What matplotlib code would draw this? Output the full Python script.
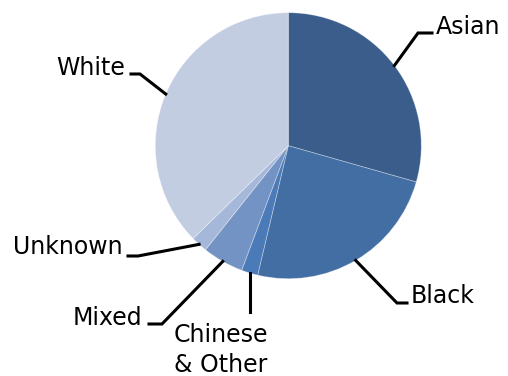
import numpy as np
import matplotlib.pyplot as plt

groups = ["Asian", "Black", "Chinese\n& Other", "Mixed", "Unknown", "White"]
shares = [29.4, 24.3, 2.0, 5.0, 2.0, 37.3]
colors = ["#3a5d8b", "#426ea3", "#4a7bb8", "#7393c4", "#a6b8da", "#c3cde2"]

W, H = 508, 376
cx, cy, r = 288.3, 145.7, 133.0

# label layout in pixel space (top-left origin): elbow, line end, text anchor
elbows = [(418, 33), (397, 303), None, (162, 324), (138, 256), (140, 74)]
ends = [(432, 33), (407, 303), (None, 312), (149, 324), (128, 256), (131, 74)]
text_pos = [(436, 34), (411, 303), (221, 342), (73, 325), (13, 254), (56, 75)]
text_ha = ["left", "left", "center", "left", "left", "left"]

fig = plt.figure(figsize=(W / 100, H / 100), dpi=100)
ax = fig.add_axes([0, 0, 1, 1])


def fy(y):
    return H - y


wedges, _ = ax.pie(shares, colors=colors, startangle=90, counterclock=False,
                   center=(cx, fy(cy)), radius=r, frame=True,
                   wedgeprops=dict(edgecolor=(1, 1, 1, 0.35), linewidth=0.6))
ax.set_xlim(0, W)
ax.set_ylim(0, H)
ax.set_aspect("equal")
ax.axis("off")

for i, w in enumerate(wedges):
    mid = np.deg2rad((w.theta1 + w.theta2) / 2)
    sx, sy = cx + r * np.cos(mid), cy - r * np.sin(mid)
    pts = [(sx, sy)]
    if elbows[i] is not None:
        pts.append(elbows[i])
    ex, ey = ends[i]
    pts.append((sx if ex is None else ex, ey))
    ax.plot([p[0] for p in pts], [fy(p[1]) for p in pts], color="black",
            lw=2.2, solid_joinstyle="miter")
    if "\n" in groups[i]:
        for k, line in enumerate(groups[i].split("\n")):
            ax.text(text_pos[i][0], fy(text_pos[i][1] + 30 * k), line,
                    ha="center", va="baseline", fontsize=17,
                    family="DejaVu Sans")
    else:
        ax.text(text_pos[i][0], fy(text_pos[i][1]), groups[i], ha=text_ha[i],
                va="baseline", fontsize=17, family="DejaVu Sans")

fig.savefig("out.png", dpi=100)
